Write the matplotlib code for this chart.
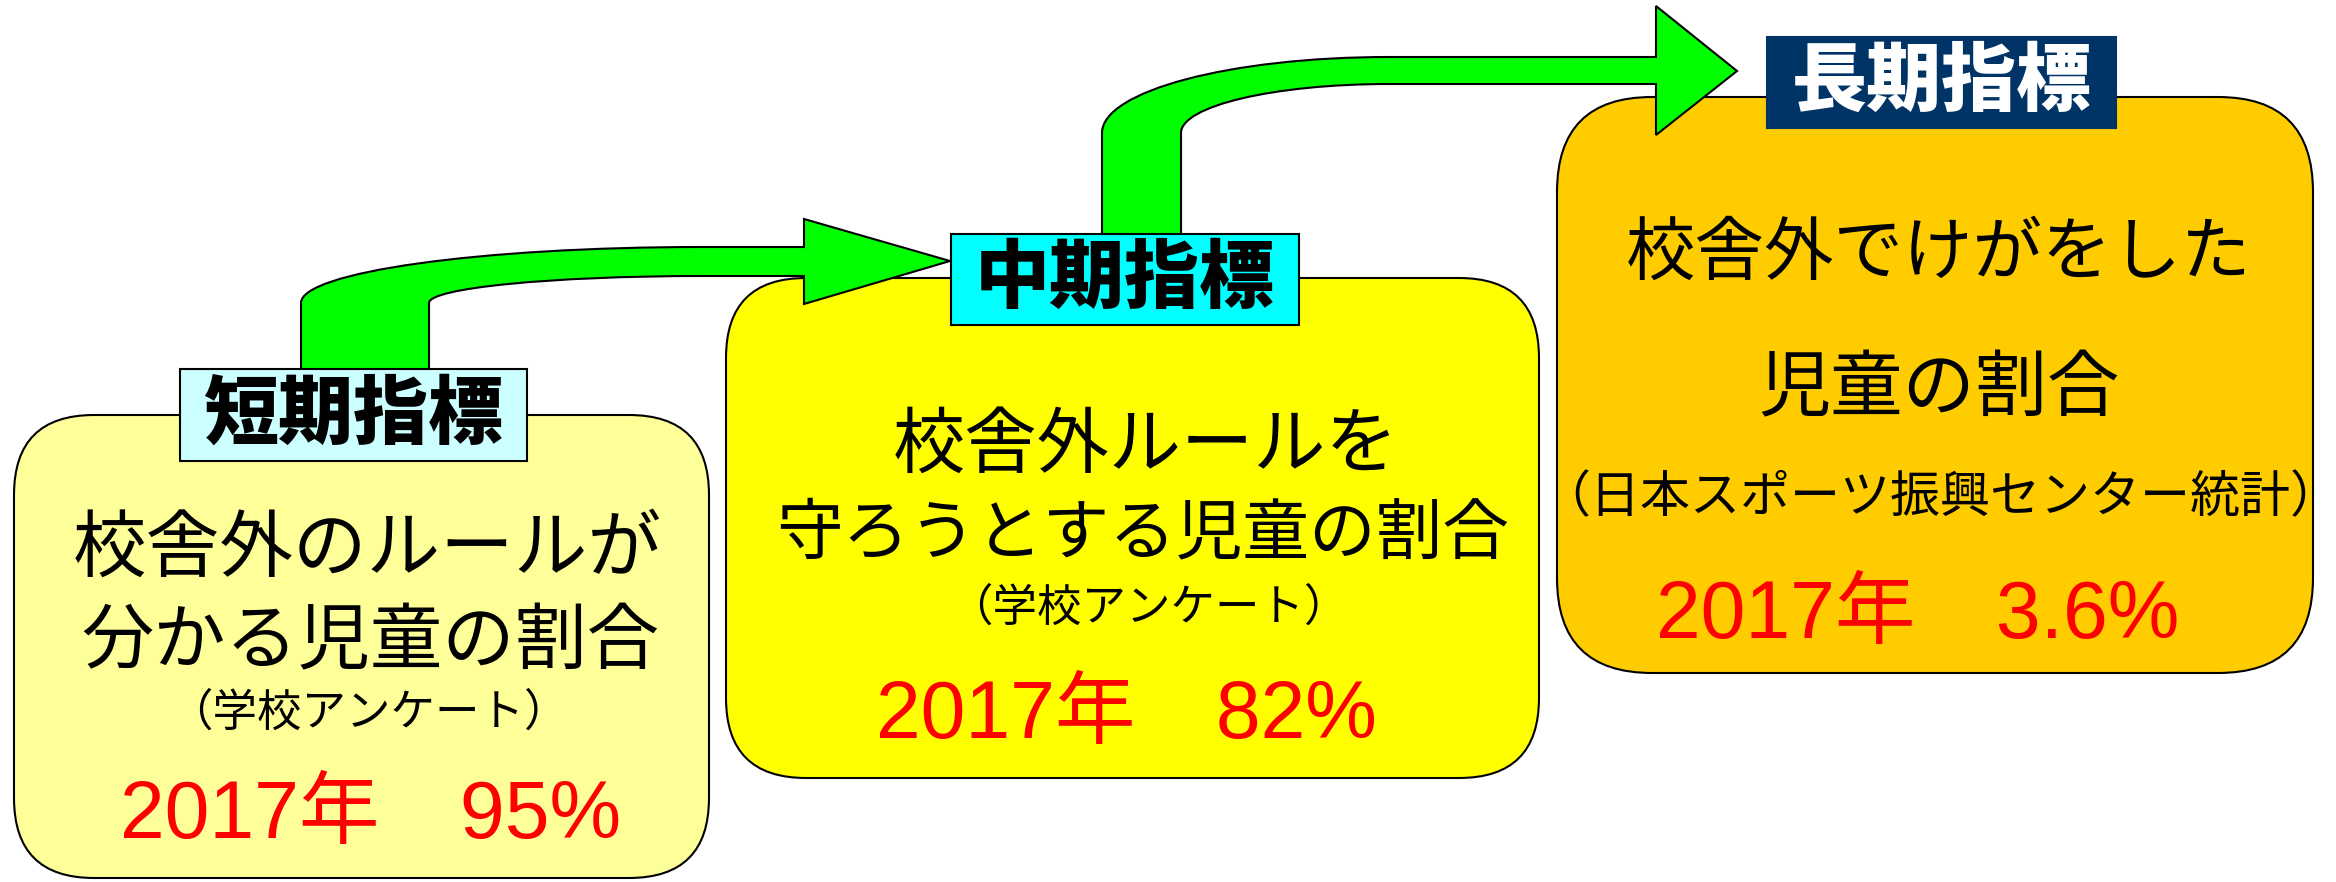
import matplotlib.pyplot as plt
from matplotlib.patches import FancyBboxPatch, Rectangle, PathPatch
from matplotlib.path import Path

# Text content of the three indicator boxes
stage_labels = ['短期指標', '中期指標', '長期指標']
box1_lines = ['校舎外のルールが', '分かる児童の割合']
box2_lines = ['校舎外ルールを', '守ろうとする児童の割合']
box3_lines = ['校舎外でけがをした', '児童の割合']
sources = ['（学校アンケート）', '（学校アンケート）', '（日本スポーツ振興センター統計）']
years = [2017, 2017, 2017]
values = ['95%', '82%', '3.6%']

JP = 'Noto Sans CJK JP'
NUM = ['Liberation Sans', 'Noto Sans CJK JP']

fig = plt.figure(figsize=(23.36, 8.82), dpi=100)
ax = fig.add_axes([0, 0, 1, 1])
ax.set_xlim(0, 2336)
ax.set_ylim(882, 0)
ax.axis('off')

# rounded boxes: (x0, y0, x1, y1), colour, radius
boxes = [((14, 415, 709, 878), '#FFFF99', 80),
         ((726, 278, 1539, 778), '#FFFF00', 80),
         ((1557, 97, 2313, 673), '#FFCC00', 95)]
for (x0, y0, x1, y1), col, r in boxes:
    ax.add_patch(FancyBboxPatch((x0, y0), x1 - x0, y1 - y0,
                                boxstyle='round,pad=0,rounding_size=%d' % r,
                                fc=col, ec='black', lw=1.5, zorder=1))

K = 0.5523


def bent_arrow(xl, xr, ybot, ytop, cx, yo, yi, xb, yht, yhb, tip):
    # outer edge: up the left side, quarter ellipse, along the top
    rxo, ryo = cx - xl, ytop - yo
    rxi, ryi = cx - xr, ytop - yi
    verts = [(xl, ybot), (xl, ytop),
             (xl, ytop - K * ryo), (cx - K * rxo, yo), (cx, yo),
             (xb, yo), (xb, yht), tip, (xb, yhb), (xb, yi), (cx, yi),
             (cx - K * rxi, yi), (xr, ytop - K * ryi), (xr, ytop),
             (xr, ybot), (xl, ybot)]
    codes = [Path.MOVETO, Path.LINETO,
             Path.CURVE4, Path.CURVE4, Path.CURVE4,
             Path.LINETO, Path.LINETO, Path.LINETO, Path.LINETO, Path.LINETO,
             Path.LINETO,
             Path.CURVE4, Path.CURVE4, Path.CURVE4,
             Path.LINETO, Path.CLOSEPOLY]
    ax.add_patch(PathPatch(Path(verts, codes), fc='#00FF00', ec='black',
                           lw=1.5, zorder=2))


bent_arrow(301, 429, 372, 303, 702, 247, 276, 804, 219, 304, (950, 261))
bent_arrow(1102, 1181, 236, 133, 1389, 57, 84, 1656, 6, 135, (1737, 71))

# stage label boxes
labels = [((180, 369, 527, 461), '#CCFFFF', 'black', 'black'),
          ((951, 234, 1299, 325), '#00FFFF', 'black', 'black'),
          ((1767, 37, 2116, 128), '#003366', '#003366', 'white')]
for name, ((x0, y0, x1, y1), fc, ec, tc) in zip(stage_labels, labels):
    ax.add_patch(Rectangle((x0, y0), x1 - x0, y1 - y0, fc=fc, ec=ec,
                           lw=1.5, zorder=3))
    ax.text((x0 + x1) / 2, (y0 + y1) / 2, name, family=JP, weight='heavy',
            fontsize=54, color=tc, ha='center', va='center', zorder=4)

# box texts
main_pos = [[(367, 550), (370, 643)],
            [(1146, 446), (1143, 535)],
            [(1939, 254), (1939, 390)]]
main_size = [[53, 52], [52, 48], [50, 52]]
src_pos = [(368, 713), (1148, 608), (1940, 498)]
src_size = [32, 32, 36]
val_pos = [(371, 817), (1126, 717), (1918, 617)]
for lines, pos, sizes in zip([box1_lines, box2_lines, box3_lines],
                             main_pos, main_size):
    for s, (x, y), fs in zip(lines, pos, sizes):
        ax.text(x, y, s, family=JP, fontsize=fs,
                ha='center', va='center', zorder=5)
for s, (x, y), fs in zip(sources, src_pos, src_size):
    ax.text(x, y, s, family=JP, fontsize=fs,
            ha='center', va='center', zorder=5)
for yr, v, (x, y) in zip(years, values, val_pos):
    ax.text(x, y, '%d年\u3000%s' % (yr, v), family=NUM, fontsize=58,
            color='red', ha='center', va='center', zorder=5)

fig.savefig('out.png', dpi=100)
